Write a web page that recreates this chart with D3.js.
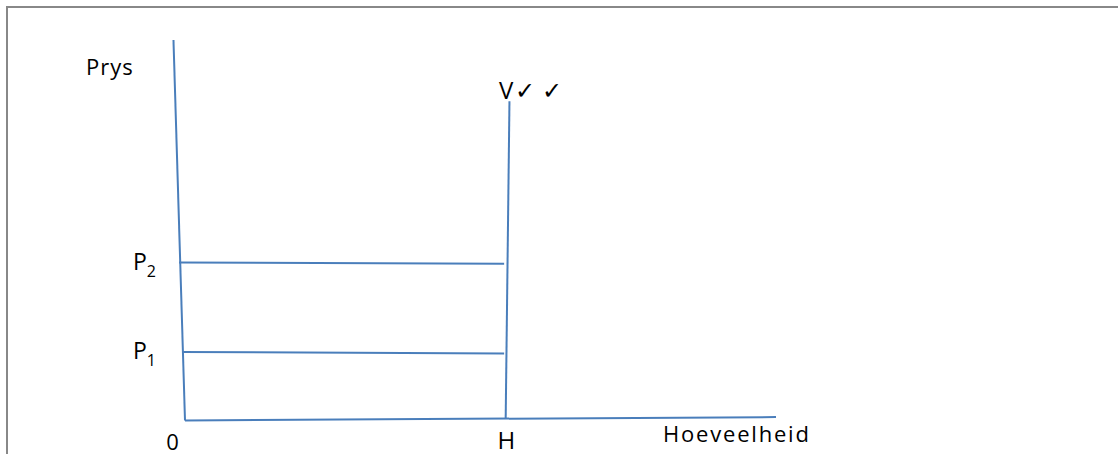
<!DOCTYPE html>
<html><head><meta charset="utf-8">
<script src="https://cdn.jsdelivr.net/npm/d3@7"></script>
<style>html,body{margin:0;padding:0;background:#fff;}svg{display:block;}</style>
</head><body>
<svg id="c" width="1118" height="454"></svg>
<script>
// Data (quantity 0..100, price 0..100 in chart units)
const axisLabels = {x: "Hoeveelheid", y: "Prys"};
const quantityH = 54.3;          // H
const priceLevels = [            // P1, P2
  {name: "P", sub: "1", value: 18.0, valueEnd: 17.6, xStart: -0.5},
  {name: "P", sub: "2", value: 41.5, valueEnd: 41.2, xStart: -1.0}
];
const supplyLabel = "V\u2713\u2009\u2713";
// segments [x1,y1,x2,y2] (hand drawn, slightly tilted)
const yAxisSeg = [0, 0, -1.95, 100];
const xAxisSeg = [0, 0, 100, 0.9];
const supplySeg = [54.26, 0.4, 54.9, 83.9];

const svg = d3.select("#c");
const x = d3.scaleLinear().domain([0, 100]).range([185, 776]);
const y = d3.scaleLinear().domain([0, 100]).range([420.5, 40]);
const blue = "#4a7ebb";

// frame
svg.append("path").attr("d", "M7,454 L7,7 L1118,7").attr("fill", "none")
  .attr("stroke", "#888").attr("stroke-width", 2);

function seg(s) {
  svg.append("line").attr("x1", x(s[0])).attr("y1", y(s[1]))
    .attr("x2", x(s[2])).attr("y2", y(s[3]))
    .attr("stroke", blue).attr("stroke-width", 2);
}
seg(yAxisSeg);
seg(xAxisSeg);
seg(supplySeg);
priceLevels.forEach(p => seg([p.xStart, p.value, quantityH - 0.3, p.valueEnd]));

const font = "Open Sans, Liberation Sans, sans-serif";
const t = (px, py, txt, size, ls, anchor) => svg.append("text").attr("x", px).attr("y", py)
  .attr("font-family", font).attr("font-size", size).attr("fill", "#000")
  .attr("letter-spacing", ls || 0)
  .attr("text-anchor", anchor || "start").text(txt);

t(86, 75, axisLabels.y, 22, 1);
t(663, 442, axisLabels.x, 22, 1.8);
t(x(0) - 12.5, 450, "0", 22, 0, "middle");
t(x(quantityH) + 0.5, 449, "H", 24, 0, "middle");
t(499, 99, supplyLabel, 24, 1.5);

priceLevels.forEach(p => {
  const g = svg.append("text").attr("x", 133).attr("y", y(p.value) + 7)
    .attr("font-family", font).attr("font-size", 23).attr("fill", "#000");
  g.append("tspan").text(p.name);
  g.append("tspan").attr("font-size", 16).attr("dy", 7).text(p.sub);
});
</script>
</body></html>
